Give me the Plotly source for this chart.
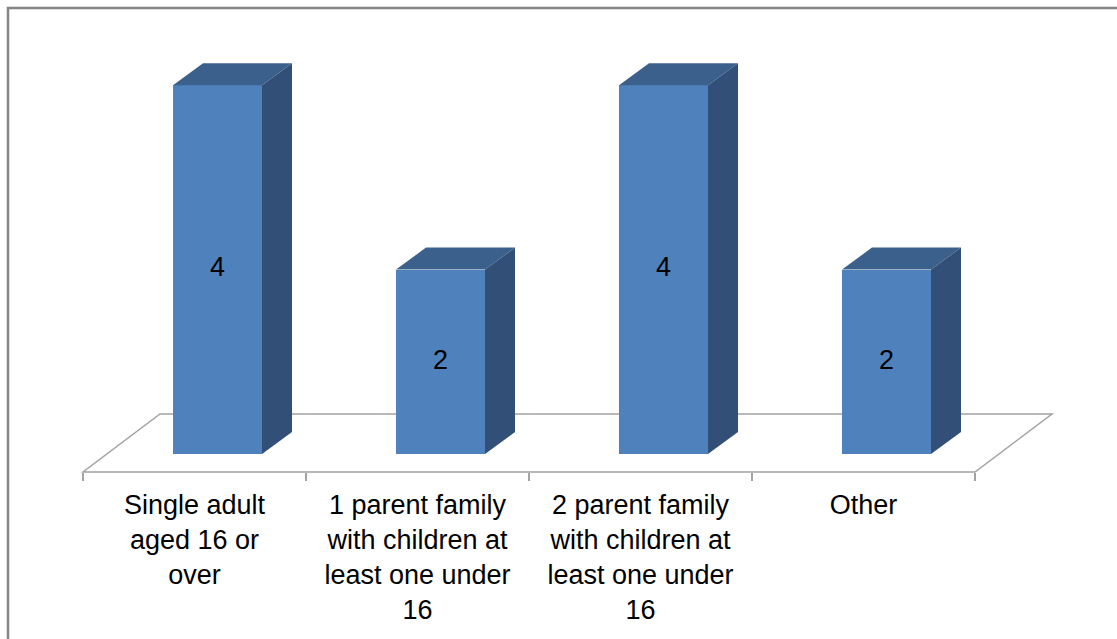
import plotly.graph_objects as go

# Household types and counts
categories = [
    "Single adult<br>aged 16 or<br>over",
    "1 parent family<br>with children at<br>least one under<br>16",
    "2 parent family<br>with children at<br>least one under<br>16",
    "Other",
]
counts = [4, 2, 4, 2]

W, H = 1117, 639
FONT = "Arial, Liberation Sans, sans-serif"

# pixel scales of the two axes
PX_X = 223.0          # pixels per category
PX_Y = 92.2           # pixels per unit of count
ZERO_PIX = 454        # pixel row of the value 0 (bar base, front)
FLOOR_FRONT_PIX = 472

x0 = -194.5 / PX_X
x_range = [x0, x0 + W / PX_X]
y_range = [-(H - ZERO_PIX) / PX_Y, ZERO_PIX / PX_Y]

# 3-D look: bar depth vector and floor depth vector (in axis units)
bar_w = 89 / PX_X
bar_off = -21.5 / PX_X
ddx, ddy = 30 / PX_X, 22 / PX_Y
floor_y = -(FLOOR_FRONT_PIX - ZERO_PIX) / PX_Y
fdx, fdy = 77 / PX_X, 58 / PX_Y

FRONT = "#4f81bd"
TOP = "#3c608c"
SIDE = "#325077"
GRID = "#a3a3a3"

fig = go.Figure()
n = len(counts)

# front faces
fig.add_trace(go.Bar(
    x=list(range(n)), y=counts,
    width=bar_w, offset=bar_off,
    marker=dict(color=FRONT, line=dict(width=0)),
    hoverinfo="skip", showlegend=False,
))

# top and side faces
for i, v in enumerate(counts):
    xl = i + bar_off
    xr = xl + bar_w
    fig.add_trace(go.Scatter(
        x=[xl, xr, xr + ddx, xl + ddx, xl],
        y=[v, v, v + ddy, v + ddy, v],
        fill="toself", fillcolor=TOP, mode="lines", line=dict(width=0),
        hoverinfo="skip", showlegend=False,
    ))
    fig.add_trace(go.Scatter(
        x=[xr, xr + ddx, xr + ddx, xr, xr],
        y=[0, ddy, v + ddy, v, 0],
        fill="toself", fillcolor=SIDE, mode="lines", line=dict(width=0),
        hoverinfo="skip", showlegend=False,
    ))

# value labels centred on each front face
fig.add_trace(go.Scatter(
    x=[i + bar_off + bar_w / 2 for i in range(n)],
    y=[v / 2 for v in counts],
    text=[str(v) for v in counts],
    mode="text", textposition="middle center",
    textfont=dict(family=FONT, size=27, color="black"),
    hoverinfo="skip", showlegend=False,
))

shapes = [
    # floor
    dict(
        type="path", xref="x", yref="y", layer="below",
        path=(f"M {-0.5},{floor_y} L {n - 0.5},{floor_y} "
              f"L {n - 0.5 + fdx},{floor_y + fdy} L {-0.5 + fdx},{floor_y + fdy} Z"),
        line=dict(color=GRID, width=1.5), fillcolor="white",
    ),
    # chart area border
    dict(
        type="path", xref="paper", yref="paper", layer="above",
        path=f"M {8 / W},-0.02 L {8 / W},{1 - 8 / H} L 1.02,{1 - 8 / H}",
        line=dict(color="#858585", width=2.5),
    ),
]

fig.update_layout(
    width=W, height=H,
    margin=dict(l=0, r=0, t=0, b=0),
    paper_bgcolor="white", plot_bgcolor="white",
    shapes=shapes,
    xaxis=dict(
        range=x_range, anchor="free", position=(H - FLOOR_FRONT_PIX) / H,
        showline=False, showgrid=False, zeroline=False,
        tickmode="array", tickvals=list(range(n)), ticktext=categories,
        ticks="", ticklabelstandoff=14,
        tickfont=dict(family=FONT, size=27, color="black"),
        minor=dict(tickmode="array", tickvals=[k - 0.5 for k in range(n + 1)],
                   ticks="outside", ticklen=8, tickwidth=1.5, tickcolor=GRID,
                   showgrid=False),
        fixedrange=True,
    ),
    yaxis=dict(range=y_range, visible=False, fixedrange=True),
    bargap=0,
)

fig.write_html("out.html")
